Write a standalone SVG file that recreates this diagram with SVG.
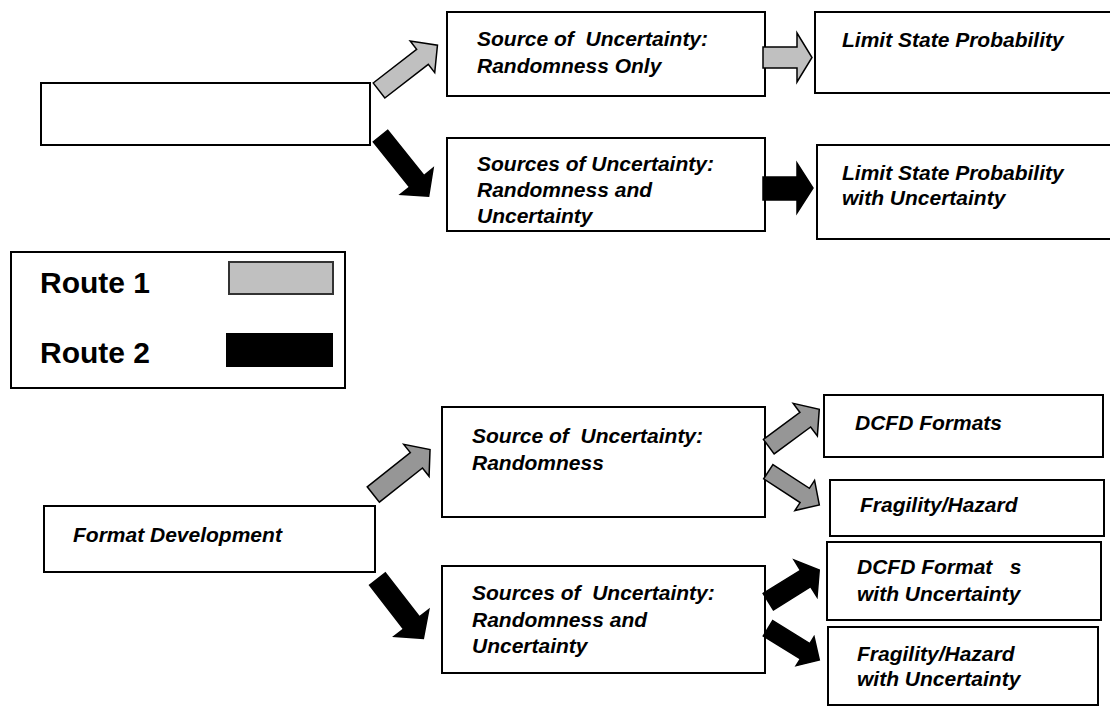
<svg xmlns="http://www.w3.org/2000/svg" width="1110" height="706" viewBox="0 0 1110 706">
<style>
.box{fill:#fff;stroke:#000;stroke-width:2}
.t{font-family:"Liberation Sans",Arial,sans-serif;font-size:21px;font-weight:bold;font-style:italic;fill:#000}
.lg{font-family:"Liberation Sans",Arial,sans-serif;font-size:30px;font-weight:bold;fill:#000}
.a1{fill:#c0c0c0;stroke:#000;stroke-width:1.5;stroke-linejoin:miter}
.a1d{fill:#969696;stroke:#000;stroke-width:1.5}
.a2{fill:#000;stroke:#000;stroke-width:1.5}
</style>
<rect width="1110" height="706" fill="#fff"/>
<g id="start-top"><rect class="box" x="41" y="83" width="329" height="62"/></g>
<g id="src-random-only"><rect class="box" x="447" y="12" width="318" height="84"/>
<text class="t" xml:space="preserve"><tspan x="477" y="46">Source of  Uncertainty:</tspan><tspan x="477" y="72.7">Randomness Only</tspan></text></g>
<g id="src-random-uncert"><rect class="box" x="447" y="138" width="318" height="93"/>
<text class="t"><tspan x="477" y="170.5">Sources of Uncertainty:</tspan><tspan x="477" y="196.7">Randomness and</tspan><tspan x="477" y="223">Uncertainty</tspan></text></g>
<g id="lsp"><rect class="box" x="815" y="12" width="300" height="81"/>
<text class="t" x="842" y="46.7">Limit State Probability</text></g>
<g id="lsp-uncert"><rect class="box" x="817" y="145" width="298" height="94"/>
<text class="t"><tspan x="842" y="180">Limit State Probability</tspan><tspan x="842" y="205">with Uncertainty</tspan></text></g>
<g id="legend"><rect class="box" x="11" y="252" width="334" height="136"/>
<text class="lg" x="40" y="293">Route 1</text>
<text class="lg" x="40" y="363">Route 2</text>
<rect x="229" y="262" width="104" height="32" fill="#c0c0c0" stroke="#333" stroke-width="2"/>
<rect x="226" y="333" width="107" height="34" fill="#000"/></g>
<g id="format-dev"><rect class="box" x="44" y="506" width="331" height="66"/>
<text class="t" x="73" y="541.7">Format Development</text></g>
<g id="src-random"><rect class="box" x="442" y="407" width="323" height="110"/>
<text class="t" xml:space="preserve"><tspan x="472" y="443.3">Source of  Uncertainty:</tspan><tspan x="472" y="470">Randomness</tspan></text></g>
<g id="srcs-random-uncert"><rect class="box" x="442" y="566" width="323" height="107"/>
<text class="t" xml:space="preserve"><tspan x="472" y="600">Sources of  Uncertainty:</tspan><tspan x="472" y="626.7">Randomness and</tspan><tspan x="472" y="653.3">Uncertainty</tspan></text></g>
<g id="dcfd"><rect class="box" x="824" y="395" width="279" height="62"/>
<text class="t" x="855" y="430">DCFD Formats</text></g>
<g id="fragility"><rect class="box" x="830" y="480" width="274" height="56"/>
<text class="t" x="860" y="512">Fragility/Hazard</text></g>
<g id="dcfd-uncert"><rect class="box" x="827" y="542" width="274" height="78"/>
<text class="t" xml:space="preserve"><tspan x="857" y="574">DCFD Format   s</tspan><tspan x="857" y="601">with Uncertainty</tspan></text></g>
<g id="fragility-uncert"><rect class="box" x="828" y="627" width="270" height="78"/>
<text class="t"><tspan x="857" y="661">Fragility/Hazard</tspan><tspan x="857" y="686">with Uncertainty</tspan></text></g>
<g id="connectors">
<polygon class="a1" transform="translate(379,90.5) rotate(-37.8)" points="0,-9.5 55,-9.5 55,-20 74,0 55,20 55,9.5 0,9.5"/>
<polygon class="a2" transform="translate(380.5,136) rotate(51.3)" points="0,-9.2 58,-9.2 58,-21 77,0 58,21 58,9.2 0,9.2"/>
<polygon class="a1" points="763,47 797,47 797,33 812,57.5 797,82 797,68 763,68"/>
<polygon class="a2" points="763,177 797,177 797,163 813,188 797,213 797,200 763,200"/>
<polygon class="a1d" transform="translate(373.3,494.5) rotate(-38.4)" points="0,-9.8 55,-9.8 55,-20.4 72.4,0 55,20.4 55,9.8 0,9.8"/>
<polygon class="a2" transform="translate(377.5,579) rotate(52.3)" points="0,-10 55.5,-10 55.5,-22 75,0 55.5,22 55.5,10 0,10"/>
<polygon class="a1d" transform="translate(768.8,446.7) rotate(-36.5)" points="0,-9 45.4,-9 45.4,-20.3 62.8,0 45.4,20.3 45.4,9 0,9"/>
<polygon class="a1d" transform="translate(768.3,471.7) rotate(33.1)" points="0,-8.5 43.5,-8.5 43.5,-18 60.9,0 43.5,18 43.5,8.5 0,8.5"/>
<polygon class="a2" transform="translate(768.3,601.7) rotate(-31.9)" points="0,-9.7 43.9,-9.7 43.9,-21.7 60,0 43.9,21.7 43.9,9.7 0,9.7"/>
<polygon class="a2" transform="translate(768,628.3) rotate(31.7)" points="0,-9 43.6,-9 43.6,-17 60.3,0 43.6,17 43.6,9 0,9"/>
</g>
</svg>
